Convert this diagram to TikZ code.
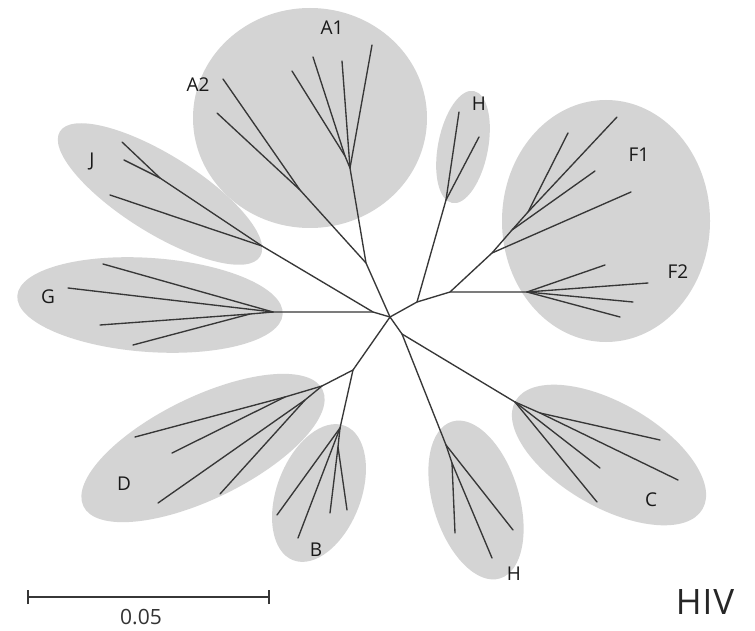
\documentclass[tikz,border=0pt]{standalone}
\usepackage{fontspec}
\setmainfont{Open Sans}
\usetikzlibrary{shapes.geometric}
\definecolor{blobfill}{RGB}{212,212,212}
\definecolor{branchc}{RGB}{55,55,55}
\begin{document}
\begin{tikzpicture}[x=1pt,y=-1pt,
  blob/.style={ellipse, fill=blobfill, draw=none, inner sep=0pt},
  br/.style={draw=branchc, line width=1.35pt, line cap=round, line join=round},
  lab/.style={font=\fontsize{19}{19}\selectfont, text=black!90, inner sep=0pt}]
\useasboundingbox[fill=white] (0,0) rectangle (755,631);
% clade ellipses
\node[blob, minimum width=234pt, minimum height=220pt] (eA) at (310,118) {};
\node[blob, minimum width=114pt, minimum height=50pt, rotate=79] (eHt) at (463,147) {};
\node[blob, minimum width=208pt, minimum height=242pt] (eF) at (606,221) {};
\node[blob, minimum width=236pt, minimum height=78pt, rotate=-32] (eJ) at (160,194) {};
\node[blob, minimum width=266pt, minimum height=94pt, rotate=-4] (eG) at (150,305) {};
\node[blob, minimum width=266pt, minimum height=102pt, rotate=26] (eD) at (203,448) {};
\node[blob, minimum width=144pt, minimum height=84pt, rotate=69] (eB) at (319,493) {};
\node[blob, minimum width=164pt, minimum height=86pt, rotate=-73] (eHb) at (476,500) {};
\node[blob, minimum width=216pt, minimum height=104pt, rotate=-30] (eC) at (609,455) {};
% internal nodes
\coordinate (R) at (390,317);
\coordinate (GJ) at (373,312);
\coordinate (Gn) at (273,312);
\coordinate (Gs) at (250,314);
\coordinate (Jn) at (262,246);
\coordinate (Js) at (160,178);
\coordinate (AJ) at (366,263);
\coordinate (A1n) at (350,168);
\coordinate (A1s) at (345,156);
\coordinate (A2n) at (300,190);
\coordinate (UR) at (417,302);
\coordinate (Hn) at (446,200);
\coordinate (FF) at (450,292);
\coordinate (F2n) at (527,292);
\coordinate (F1n) at (492,253);
\coordinate (F1s) at (512,230);
\coordinate (F1t) at (528,212);
\coordinate (LR) at (402,334);
\coordinate (Cn) at (515,402);
\coordinate (Cs) at (540,413);
\coordinate (HBn) at (446,445);
\coordinate (HBs) at (452,463);
\coordinate (DB) at (353,370);
\coordinate (Dn) at (322,386);
\coordinate (Da) at (285,397);
\coordinate (Db) at (305,400);
\coordinate (Bn) at (340,428);
\coordinate (Bs) at (338,447);
% tips
\coordinate (g1) at (103,264); \coordinate (g2) at (68,288);
\coordinate (g3) at (100,325); \coordinate (g4) at (133,345);
\coordinate (j1) at (122,142); \coordinate (j2) at (124,160); \coordinate (j3) at (110,195);
\coordinate (a1) at (372,45); \coordinate (a2) at (342,61);
\coordinate (a3) at (313,57); \coordinate (a4) at (292,71);
\coordinate (t1) at (223,79); \coordinate (t2) at (217,113);
\coordinate (h1) at (459,112); \coordinate (h2) at (479,137);
\coordinate (f1a) at (617,117); \coordinate (f1b) at (568,133);
\coordinate (f1c) at (595,171); \coordinate (f1d) at (631,192);
\coordinate (f2a) at (605,265); \coordinate (f2b) at (648,283);
\coordinate (f2c) at (633,302); \coordinate (f2d) at (620,317);
\coordinate (c1) at (660,440); \coordinate (c2) at (678,480);
\coordinate (c3) at (600,468); \coordinate (c4) at (597,502);
\coordinate (hb1) at (455,533); \coordinate (hb2) at (492,558); \coordinate (hb3) at (513,530);
\coordinate (d1) at (135,437); \coordinate (d2) at (172,453);
\coordinate (d3) at (158,503); \coordinate (d4) at (220,494);
\coordinate (b1) at (277,515); \coordinate (b2) at (298,538);
\coordinate (b3) at (330,513); \coordinate (b4) at (347,510);
% branches
\draw[br] (R) -- (GJ) -- (Gn);
\draw[br] (Gn) -- (g1); \draw[br] (Gn) -- (g2);
\draw[br] (Gn) -- (Gs) -- (g3); \draw[br] (Gs) -- (g4);
\draw[br] (GJ) -- (Jn) -- (Js) -- (j1); \draw[br] (Js) -- (j2); \draw[br] (Jn) -- (j3);
\draw[br] (R) -- (AJ) -- (A1n) -- (a1); \draw[br] (A1n) -- (a2);
\draw[br] (A1n) -- (A1s) -- (a3); \draw[br] (A1s) -- (a4);
\draw[br] (AJ) -- (A2n) -- (t1); \draw[br] (A2n) -- (t2);
\draw[br] (R) -- (UR) -- (Hn) -- (h1); \draw[br] (Hn) -- (h2);
\draw[br] (UR) -- (FF) -- (F2n) -- (f2b);
\draw[br] (F2n) -- (f2a); \draw[br] (F2n) -- (f2c); \draw[br] (F2n) -- (f2d);
\draw[br] (FF) -- (F1n) -- (f1d); \draw[br] (F1n) -- (F1s) -- (f1c);
\draw[br] (F1s) -- (F1t) -- (f1a); \draw[br] (F1t) -- (f1b);
\draw[br] (R) -- (LR) -- (Cn) -- (c3); \draw[br] (Cn) -- (c4);
\draw[br] (Cn) -- (Cs) -- (c1); \draw[br] (Cs) -- (c2);
\draw[br] (LR) -- (HBn) -- (hb3); \draw[br] (HBn) -- (HBs) -- (hb1); \draw[br] (HBs) -- (hb2);
\draw[br] (R) -- (DB) -- (Dn) -- (Da) -- (d1); \draw[br] (Da) -- (d2);
\draw[br] (Dn) -- (Db) -- (d3); \draw[br] (Db) -- (d4);
\draw[br] (DB) -- (Bn) -- (b1); \draw[br] (Bn) -- (b2);
\draw[br] (Bn) -- (Bs) -- (b3); \draw[br] (Bs) -- (b4);
% labels
\node[lab] (lA1) at (332,28) {A1};
\node[lab] (lA2) at (198,85) {A2};
\node[lab] (lHt) at (479,104) {H};
\node[lab] (lF1) at (639,155) {F1};
\node[lab] (lF2) at (678,272) {F2};
\node[lab] (lJ) at (92,162) {J};
\node[lab] (lG) at (48,297) {G};
\node[lab] (lD) at (124,484) {D};
\node[lab] (lB) at (316,550) {B};
\node[lab] (lHb) at (514,574) {H};
\node[lab] (lC) at (651,500) {C};
\node[font=\fontsize{35}{35}\selectfont, text=black!85, inner sep=0pt] (hiv) at (705,602) {H\kern1pt I\kern1pt V};
% scale bar
\coordinate (s0) at (28,597);
\coordinate (s1) at (269,597);
\draw[br, line cap=butt] (s0) -- (s1);
\draw[br, line cap=butt] ([yshift=-7pt]s0) -- ([yshift=7pt]s0);
\draw[br, line cap=butt] ([yshift=-7pt]s1) -- ([yshift=7pt]s1);
\node[font=\fontsize{21}{21}\selectfont, text=black!80, inner sep=0pt, anchor=south] (scl) at (141,625) {0.05};
\end{tikzpicture}
\end{document}
